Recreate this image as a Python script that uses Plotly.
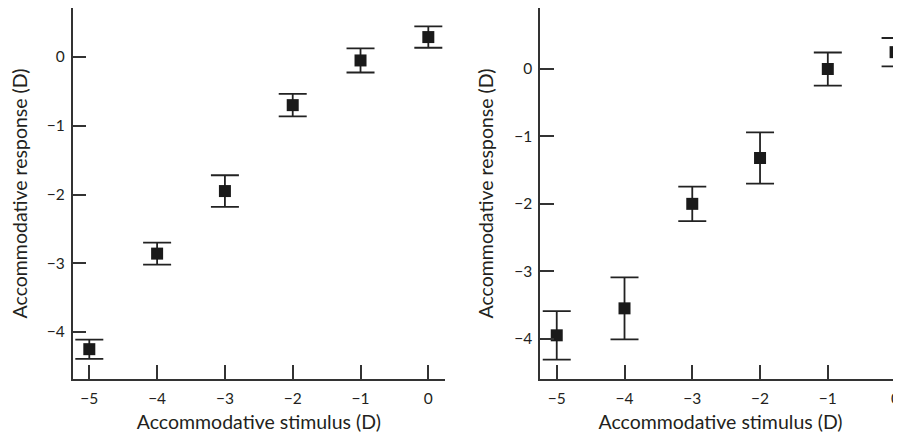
import plotly.graph_objects as go

stimulus = [-5, -4, -3, -2, -1, 0]
resp_left = [-4.25, -2.86, -1.95, -0.70, -0.05, 0.29]
err_left = [0.14, 0.16, 0.23, 0.165, 0.175, 0.155]
resp_right = [-3.95, -3.55, -2.00, -1.32, 0.00, 0.25]
err_right = [0.36, 0.46, 0.255, 0.38, 0.245, 0.21]
y_ticks = [-4, -3, -2, -1, 0]
x_ticks = [-5, -4, -3, -2, -1, 0]

# page has an 8px body margin, so the figure is drawn at (8, 8)
OFF = 8
W, H = 901 - OFF, 435 - OFF
FONT = "Lato"
TXT = "#231f20"
AX = "#333333"

fig = go.Figure()
for resp, err, xa, ya in [(resp_left, err_left, "x", "y"), (resp_right, err_right, "x2", "y2")]:
    fig.add_trace(go.Scatter(
        x=stimulus, y=resp, mode="markers", xaxis=xa, yaxis=ya,
        marker=dict(symbol="square", size=12, color="#1a1a1a"),
        error_y=dict(type="data", array=err, visible=True, color="#222222", thickness=1.8, width=14),
        showlegend=False, cliponaxis=False,
    ))

common_x = dict(tickvals=x_ticks, ticks="inside", ticklen=14, tickwidth=1.5, tickcolor=AX,
                showline=True, linecolor=AX, linewidth=1.5, showgrid=False, zeroline=False,
                ticklabelstandoff=5,
                tickfont=dict(family=FONT, size=15.5, color=TXT),
                title=dict(text="Accommodative stimulus (D)", font=dict(family=FONT, size=19.5, color=TXT), standoff=9))
common_y = dict(tickvals=y_ticks, ticks="inside", ticklen=14, tickwidth=1.5, tickcolor=AX,
                showline=True, linecolor=AX, linewidth=1.5, showgrid=False, zeroline=False,
                ticklabelstandoff=3,
                tickfont=dict(family=FONT, size=15.5, color=TXT),
                title=dict(text="Accommodative response (D)", font=dict(family=FONT, size=19.5, color=TXT), standoff=15))

fig.update_layout(
    width=W, height=H,
    margin=dict(l=0, r=0, t=0, b=56, autoexpand=False),
    paper_bgcolor="white", plot_bgcolor="white",
    xaxis=dict(common_x, domain=[(72.7 - OFF) / W, (445 - OFF) / W], range=[-5.245, 0.246], anchor="y"),
    yaxis=dict(common_y, domain=[0, 1], range=[-4.684, 0.713], anchor="x"),
    xaxis2=dict(common_x, domain=[(540 - OFF) / W, 1.0], range=[-5.247, 0.08], anchor="y2"),
    yaxis2=dict(common_y, domain=[0, 1], range=[-4.598, 0.905], anchor="x2"),
)

fig.write_html("out.html")
